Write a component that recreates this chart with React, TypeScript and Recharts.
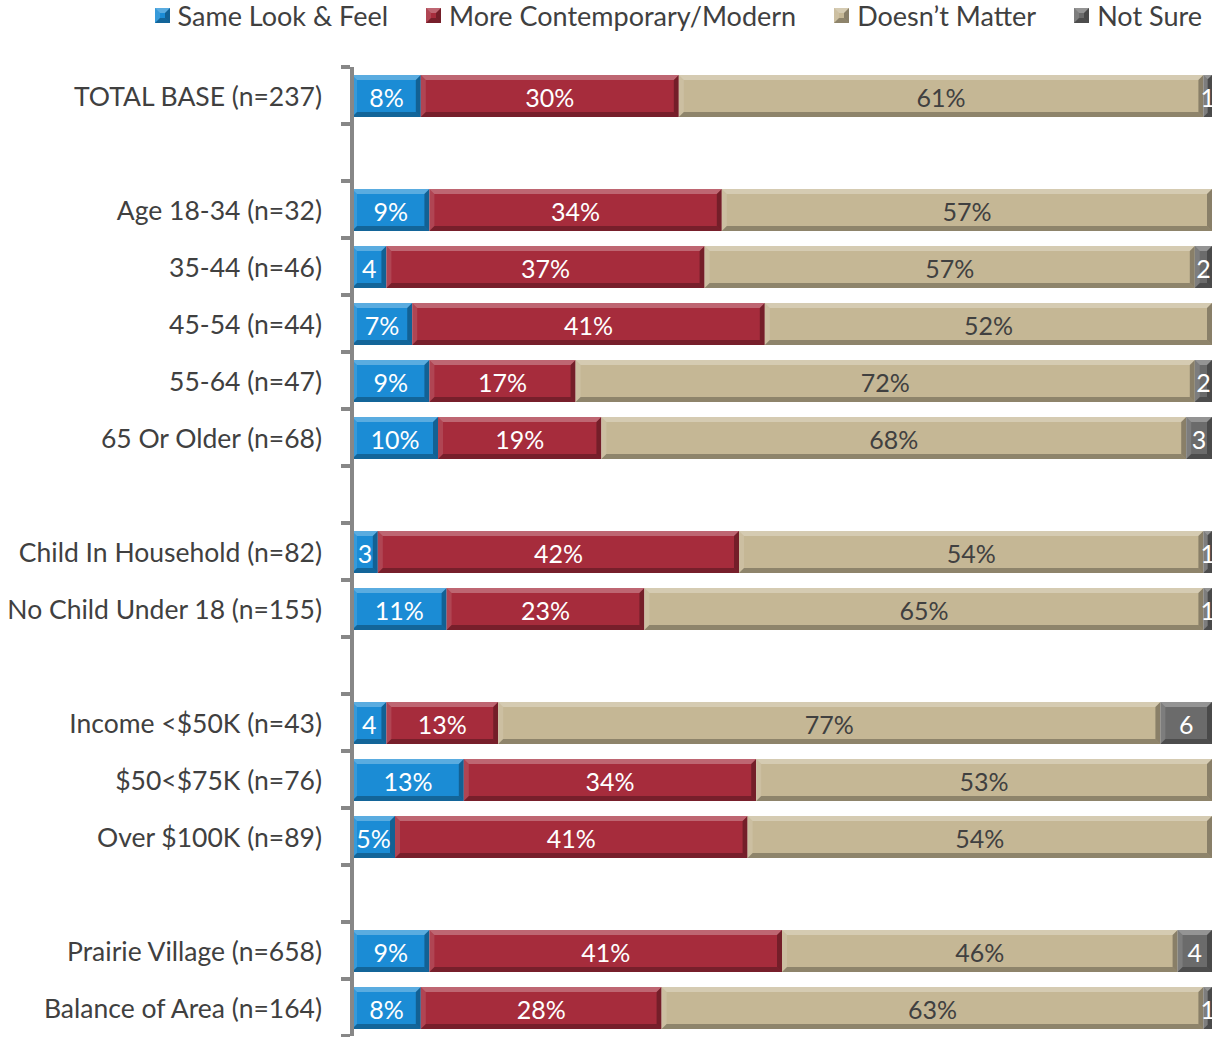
import { BarChart, Bar, XAxis, YAxis, LabelList } from "recharts";

// Lignes du graphique ; "" = ligne vide entre les groupes
const categories = [
  "TOTAL BASE (n=237)",
  "",
  "Age 18-34 (n=32)",
  "35-44 (n=46)",
  "45-54 (n=44)",
  "55-64 (n=47)",
  "65 Or Older (n=68)",
  "",
  "Child In Household (n=82)",
  "No Child Under 18 (n=155)",
  "",
  "Income <$50K (n=43)",
  "$50<$75K (n=76)",
  "Over $100K (n=89)",
  "",
  "Prairie Village (n=658)",
  "Balance of Area (n=164)",
];
const sameLook = [8, null, 9, 4, 7, 9, 10, null, 3, 11, null, 4, 13, 5, null, 9, 8];
const modern = [30, null, 34, 37, 41, 17, 19, null, 42, 23, null, 13, 34, 41, null, 41, 28];
const doesntMatter = [61, null, 57, 57, 52, 72, 68, null, 54, 65, null, 77, 53, 54, null, 46, 63];
const notSure = [1, null, 0, 2, 0, 2, 3, null, 1, 1, null, 6, 0, 0, null, 4, 1];

const series = [
  { key: "sameLook", name: "Same Look & Feel", color: "#1b8cd5", text: "#ffffff", pct: true },
  { key: "modern", name: "More Contemporary/Modern", color: "#a62c3c", text: "#ffffff", pct: true },
  { key: "doesntMatter", name: "Doesn’t Matter", color: "#c5b795", text: "#404040", pct: true },
  { key: "notSure", name: "Not Sure", color: "#6b6b6b", text: "#ffffff", pct: false },
];

const data = categories.map((label, i) => ({
  id: `r${i}`,
  label,
  sameLook: sameLook[i],
  modern: modern[i],
  doesntMatter: doesntMatter[i],
  notSure: notSure[i],
}));

const W = 1213;
const H = 1037;
const TOP = 67;
const BOTTOM = 1;
const AXIS_W = 352;
const BAND = (H - TOP - BOTTOM) / categories.length;
const FONT = "Lato, 'Open Sans', sans-serif";
const GRAY = "#878787";

function Bevel(props: any) {
  const { x, y, width: w, height: h, fill } = props;
  if (!w || w <= 0) return null;
  const b = Math.min(5, w / 2, h / 2);
  return (
    <g>
      <rect x={x} y={y} width={w} height={h} fill={fill} />
      <polygon points={`${x},${y} ${x + w},${y} ${x + w - b},${y + b} ${x + b},${y + b}`} fill="#fff" fillOpacity={0.28} />
      <polygon points={`${x},${y} ${x + b},${y + b} ${x + b},${y + h - b} ${x},${y + h}`} fill="#fff" fillOpacity={0.12} />
      <polygon points={`${x + w},${y} ${x + w},${y + h} ${x + w - b},${y + h - b} ${x + w - b},${y + b}`} fill="#000" fillOpacity={0.3} />
      <polygon points={`${x},${y + h} ${x + w},${y + h} ${x + w - b},${y + h - b} ${x + b},${y + h - b}`} fill="#000" fillOpacity={0.28} />
    </g>
  );
}

function CategoryTick(props: any) {
  const { y, payload, index } = props;
  const row = data.find((d) => d.id === payload.value);
  const ax = AXIS_W - 2;
  return (
    <g>
      <line x1={ax - 9} x2={ax} y1={y - BAND / 2} y2={y - BAND / 2} stroke={GRAY} strokeWidth={4} />
      {index === categories.length - 1 && (
        <line x1={ax - 9} x2={ax} y1={y + BAND / 2} y2={y + BAND / 2} stroke={GRAY} strokeWidth={4} />
      )}
      <text x={322} y={y} textAnchor="end" dominantBaseline="central" fontFamily={FONT} fontSize={26.5} fill="#404040">
        {row ? row.label : ""}
      </text>
    </g>
  );
}

function makeLabel(color: string, pct: boolean) {
  return (props: any) => {
    const { x, y, width, height, value } = props;
    if (value == null || value === 0) return null;
    const txt = pct && value >= 5 ? `${value}%` : `${value}`;
    return (
      <text
        x={x + width / 2}
        y={y + height / 2 + 1}
        textAnchor="middle"
        dominantBaseline="central"
        fontFamily={FONT}
        fontSize={25}
        fill={color}
      >
        {txt}
      </text>
    );
  };
}

function LegendIcon({ color }: { color: string }) {
  return (
    <svg width={15} height={15} style={{ display: "block" }}>
      <Bevel x={0} y={0} width={15} height={15} fill={color} />
    </svg>
  );
}

export default function App() {
  return (
    <div style={{ position: "absolute", left: 0, top: 0, width: W, height: H, background: "#fff" }}>
      <div
        style={{
          position: "absolute",
          top: 0,
          right: 11,
          height: 30,
          display: "flex",
          alignItems: "center",
          gap: 38,
          fontFamily: FONT,
          fontSize: 27,
          color: "#404040",
          whiteSpace: "nowrap",
        }}
      >
        {series.map((s) => (
          <div key={s.key} style={{ display: "flex", alignItems: "center", gap: 8 }}>
            <LegendIcon color={s.color} />
            <span>{s.name}</span>
          </div>
        ))}
      </div>
      <BarChart
        width={W}
        height={H}
        data={data}
        layout="vertical"
        margin={{ top: TOP, right: 1, bottom: BOTTOM, left: 0 }}
        barSize={42}
      >
        <XAxis type="number" domain={[0, 100]} hide />
        <YAxis
          type="category"
          dataKey="id"
          width={AXIS_W}
          axisLine={{ stroke: GRAY, strokeWidth: 4 }}
          tickLine={false}
          tick={<CategoryTick />}
          interval={0}
        />
        {series.map((s) => (
          <Bar
            key={s.key}
            dataKey={s.key}
            name={s.name}
            stackId="a"
            fill={s.color}
            shape={<Bevel />}
            isAnimationActive={false}
          >
            <LabelList dataKey={s.key} content={makeLabel(s.text, s.pct)} />
          </Bar>
        ))}
      </BarChart>
    </div>
  );
}
